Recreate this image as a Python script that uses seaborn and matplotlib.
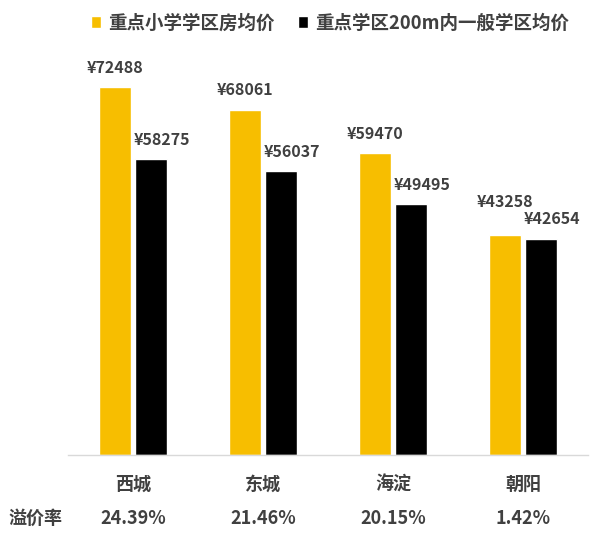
import matplotlib
matplotlib.use("Agg")
import matplotlib.pyplot as plt
import seaborn as sns
import pandas as pd
from matplotlib.transforms import blended_transform_factory

districts = ["西城", "东城", "海淀", "朝阳"]
series_names = ["重点小学学区房均价", "重点学区200m内一般学区均价"]
key_prices = [72488, 68061, 59470, 43258]
near_prices = [58275, 56037, 49495, 42654]
premium = ["24.39%", "21.46%", "20.15%", "1.42%"]
premium_label = "溢价率"

sns.set_theme(style="white")
plt.rcParams['font.family'] = ['Noto Sans CJK SC', 'DejaVu Sans']

df = pd.DataFrame({
    "district": districts * 2,
    "series": [series_names[0]] * 4 + [series_names[1]] * 4,
    "price": key_prices + near_prices,
})

fig = plt.figure(figsize=(6.0, 5.34), dpi=100)
ax = fig.add_axes([68/600, 1 - 455/534, 520/600, 406/534])
palette = {series_names[0]: "#F7BE00", series_names[1]: "#000000"}
sns.barplot(data=df, x="district", y="price", hue="series", palette=palette,
            order=districts, hue_order=series_names, width=0.56, gap=0.12,
            saturation=1, ax=ax, legend=True)
ax.set_ylim(0, 80000)
ax.set_xlim(-0.5, 3.5)
ax.set_xlabel("")
ax.set_ylabel("")
ax.set_yticks([])
for s in ["top", "left", "right"]:
    ax.spines[s].set_visible(False)
ax.spines["bottom"].set_color("#d9d9d9")
ax.spines["bottom"].set_linewidth(1.0)
text_color = "#404040"
ax.tick_params(axis="x", length=0, pad=14, labelsize=13, labelcolor=text_color)
for lab in ax.get_xticklabels():
    lab.set_fontweight("bold")

for i, cont in enumerate(ax.containers):
    vals = key_prices if i == 0 else near_prices
    for j, (bar, v) in enumerate(zip(cont, vals)):
        x = bar.get_x() + bar.get_width() / 2
        dy = 8
        dx = 0 if i == 0 else 8
        # raise the first label when both bars are nearly equal so labels don't collide
        if i == 0 and abs(key_prices[j] - near_prices[j]) < 0.05 * key_prices[j]:
            dy = 18
        ax.annotate(f"¥{v}", (x, bar.get_height()), xytext=(dx, dy),
                    textcoords="offset points", ha="center", va="bottom",
                    fontsize=11.5, fontweight="bold", color=text_color)

trans = blended_transform_factory(ax.transData, fig.transFigure)
for i, p in enumerate(premium):
    ax.text(i, 1 - 518/534, p, transform=trans, ha="center", va="center",
            fontsize=13, fontweight="bold", color=text_color)
fig.text(35/600, 1 - 518/534, premium_label, ha="center", va="center",
         fontsize=13, fontweight="bold", color=text_color)

handles, labels = ax.get_legend_handles_labels()
ax.get_legend().remove()
leg = fig.legend(handles, labels, loc="center", bbox_to_anchor=(0.55, 1 - 23/534),
                 ncol=2, frameon=False, handlelength=0.55, handleheight=0.55,
                 handletextpad=0.35, columnspacing=1.3,
                 prop={"size": 13.3, "weight": "bold"})
for t in leg.get_texts():
    t.set_color(text_color)

fig.savefig("out.png", dpi=100, facecolor="white")
